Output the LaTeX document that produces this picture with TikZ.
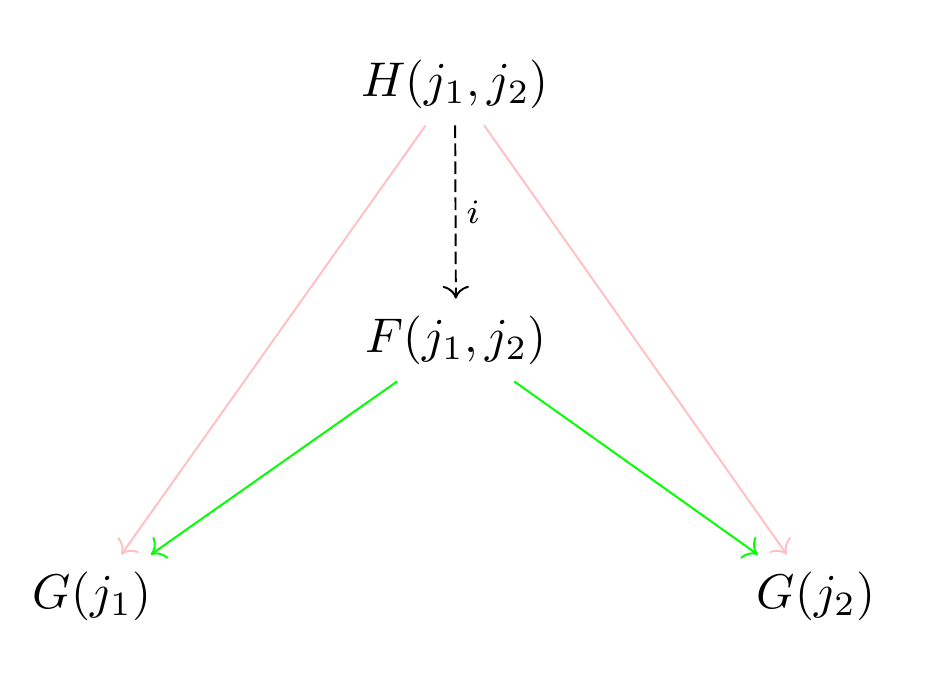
\documentclass[tikz,border=0pt]{standalone}
\usetikzlibrary{arrows.meta}
\definecolor{softpink}{RGB}{255,192,196}
\definecolor{brightgreen}{RGB}{0,255,0}
\begin{document}
\begin{tikzpicture}[x=0.2053pt,y=-0.2053pt,
  obj/.style={inner sep=3.3pt},
  arr/.style={line width=0.4pt,-{Computer Modern Rightarrow[length=2.6pt,width=5.4pt]}},
  pinkarr/.style={arr,draw=softpink},
  greenarr/.style={arr,draw=brightgreen},
  dasharr/.style={arr,dash pattern=on 2.6pt off 1.1pt}]
\useasboundingbox (0,0) rectangle (948,688);
\node[obj] (H) at (455,84) {$H(j_1,j_2)$};
\node[obj] (F) at (456,340) {$F(j_1,j_2)$};
\node[obj] (G1) at (92,596) {$G(j_1)$};
\node[obj] (G2) at (816,596) {$G(j_2)$};
\draw[dasharr] (H) -- node[right,inner sep=2pt] {$\scriptstyle i$} (F);
\draw[pinkarr] (H) -- (G1);
\draw[pinkarr] (H) -- (G2);
\draw[greenarr] (F) -- (G1);
\draw[greenarr] (F) -- (G2);
\end{tikzpicture}
\end{document}
